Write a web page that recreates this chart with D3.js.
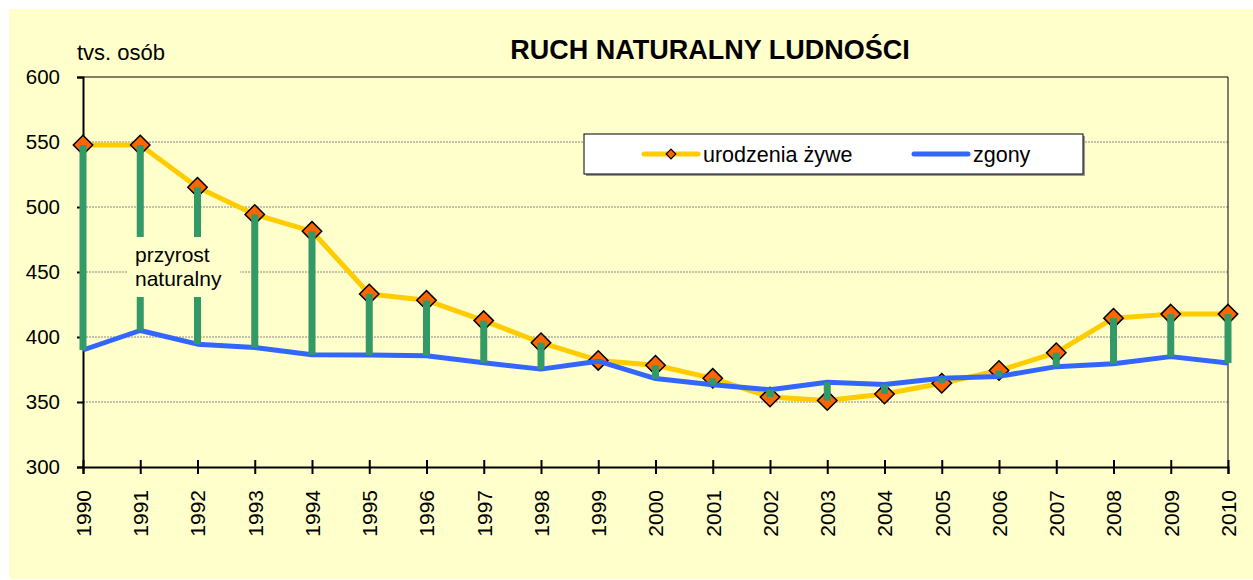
<!DOCTYPE html>
<html>
<head>
<meta charset="utf-8">
<script src="https://cdn.jsdelivr.net/npm/d3@7"></script>
<style>
  body { margin: 0; background: #fff; }
  svg { display: block; font-family: "Liberation Sans", Arial, sans-serif; }
</style>
</head>
<body>
<div id="container"></div>
<script>
// data (tys. osób)
const years = [1990, 1991, 1992, 1993, 1994, 1995, 1996, 1997, 1998, 1999, 2000,
               2001, 2002, 2003, 2004, 2005, 2006, 2007, 2008, 2009, 2010];
const births = [547.7, 547.7, 515.2, 494.3, 481.3, 433.1, 428.2, 412.6, 395.6, 382.0, 378.3,
                368.2, 353.8, 351.1, 356.1, 364.4, 374.2, 387.9, 414.5, 417.6, 417.6];
const deaths = [390.0, 405.0, 394.5, 392.0, 386.4, 386.1, 385.5, 380.2, 375.3, 381.4, 368.0,
                363.2, 359.5, 365.2, 363.5, 368.3, 369.7, 377.2, 379.4, 384.9, 380.0];
const yTicks = [300, 350, 400, 450, 500, 550, 600];
const seriesNames = ["urodzenia żywe", "zgony"];

const W = 1253, H = 580;
const margin = { top: 77, right: 25, bottom: 113, left: 83 };
const font = '"Liberation Sans", Arial, sans-serif';

const svg = d3.select("#container").append("svg")
  .attr("width", W)
  .attr("height", H);

// chart background
svg.append("rect")
  .attr("x", 9).attr("y", 9)
  .attr("width", W - 9).attr("height", H - 10)
  .attr("fill", "#ffffcc");

const x = d3.scaleLinear()
  .domain([1990, 2010])
  .range([margin.left, W - margin.right]);

const y = d3.scaleLinear()
  .domain([300, 600])
  .range([H - margin.bottom, margin.top]);

// gridlines
svg.append("g")
  .selectAll("line")
  .data(yTicks.filter(d => d > 300 && d < 600))
  .enter().append("line")
  .attr("x1", x(1990)).attr("x2", x(2010))
  .attr("y1", d => y(d)).attr("y2", d => y(d))
  .attr("stroke", "#888")
  .attr("stroke-width", 1)
  .attr("stroke-dasharray", "2,1");

// top and right border
svg.append("path")
  .attr("d", `M${x(1990)},${y(600)}H${x(2010)}V${y(300)}`)
  .attr("fill", "none")
  .attr("stroke", "#000")
  .attr("stroke-width", 1);

// y axis
svg.append("g")
  .attr("transform", `translate(${x(1990)},0)`)
  .call(d3.axisLeft(y).tickValues(yTicks).tickSize(6).tickPadding(17))
  .call(g => g.select(".domain").attr("stroke-width", 2))
  .call(g => g.selectAll(".tick line").attr("stroke-width", 2))
  .selectAll("text")
  .attr("font-family", font)
  .attr("font-size", 20.5)
  .attr("fill", "#000");

// x axis
const xAxis = svg.append("g")
  .attr("transform", `translate(0,${y(300)})`)
  .call(d3.axisBottom(x).tickValues(years).tickFormat(d3.format("d")).tickSize(7));
xAxis.select(".domain").attr("stroke-width", 2);
xAxis.selectAll(".tick line").attr("y1", -7).attr("stroke-width", 2);
xAxis.selectAll("text")
  .attr("font-family", font)
  .attr("font-size", 21)
  .attr("fill", "#000")
  .attr("transform", "rotate(-90)")
  .attr("x", -23)
  .attr("y", 0)
  .attr("dy", "0.35em")
  .style("text-anchor", "end");

// births line
const line = d3.line().x((d, i) => x(years[i])).y(d => y(d));

svg.append("path")
  .datum(births)
  .attr("d", line)
  .attr("fill", "none")
  .attr("stroke", "#ffcc00")
  .attr("stroke-width", 5)
  .attr("stroke-linejoin", "round");

// diamond markers
const diamond = d3.symbol().type(d3.symbolDiamond2).size(240);
svg.append("g")
  .selectAll("path")
  .data(births)
  .enter().append("path")
  .attr("d", diamond)
  .attr("transform", (d, i) => `translate(${x(years[i])},${y(d)})`)
  .attr("fill", "#ff6600")
  .attr("stroke", "#000")
  .attr("stroke-width", 1.5);

// deaths line
svg.append("path")
  .datum(deaths)
  .attr("d", line)
  .attr("fill", "none")
  .attr("stroke", "#3366ff")
  .attr("stroke-width", 5)
  .attr("stroke-linejoin", "round");

// natural increase bars
svg.append("g")
  .selectAll("rect")
  .data(years)
  .enter().append("rect")
  .attr("x", d => x(d) - 3.5)
  .attr("width", 7)
  .attr("y", (d, i) => y(Math.max(births[i], deaths[i])))
  .attr("height", (d, i) => Math.abs(y(births[i]) - y(deaths[i])))
  .attr("fill", "#339966");

// label "przyrost naturalny"
svg.append("rect")
  .attr("x", 128).attr("y", 237)
  .attr("width", 112).attr("height", 60)
  .attr("fill", "#ffffcc");
svg.append("text")
  .attr("font-size", 21)
  .selectAll("tspan")
  .data(["przyrost", "naturalny"])
  .enter().append("tspan")
  .attr("x", 135)
  .attr("y", (d, i) => 262 + i * 24)
  .text(d => d);

// title and unit
svg.append("text")
  .attr("x", 710).attr("y", 59)
  .attr("text-anchor", "middle")
  .attr("font-size", 27)
  .attr("font-weight", "bold")
  .text("RUCH NATURALNY LUDNOŚCI");

svg.append("text")
  .attr("x", 77).attr("y", 60)
  .attr("font-size", 22)
  .text("tvs. osób");

// legend
const legend = svg.append("g");
legend.append("rect")
  .attr("x", 586).attr("y", 136)
  .attr("width", 499).attr("height", 40)
  .attr("fill", "#999");
legend.append("rect")
  .attr("x", 584).attr("y", 134)
  .attr("width", 499).attr("height", 40)
  .attr("fill", "#fff")
  .attr("stroke", "#000")
  .attr("stroke-width", 1);

legend.append("line")
  .attr("x1", 644).attr("x2", 698).attr("y1", 154).attr("y2", 154)
  .attr("stroke", "#ffcc00").attr("stroke-width", 5).attr("stroke-linecap", "round");
legend.append("path")
  .attr("d", d3.symbol().type(d3.symbolDiamond2).size(60))
  .attr("transform", "translate(671,154)")
  .attr("fill", "#ff6600").attr("stroke", "#000").attr("stroke-width", 1.2);
legend.append("text")
  .attr("x", 703).attr("y", 162)
  .attr("font-size", 21.5)
  .text(seriesNames[0]);

legend.append("line")
  .attr("x1", 914).attr("x2", 968).attr("y1", 154).attr("y2", 154)
  .attr("stroke", "#3366ff").attr("stroke-width", 5).attr("stroke-linecap", "round");
legend.append("text")
  .attr("x", 973).attr("y", 162)
  .attr("font-size", 21.5)
  .text(seriesNames[1]);
</script>
</body>
</html>
